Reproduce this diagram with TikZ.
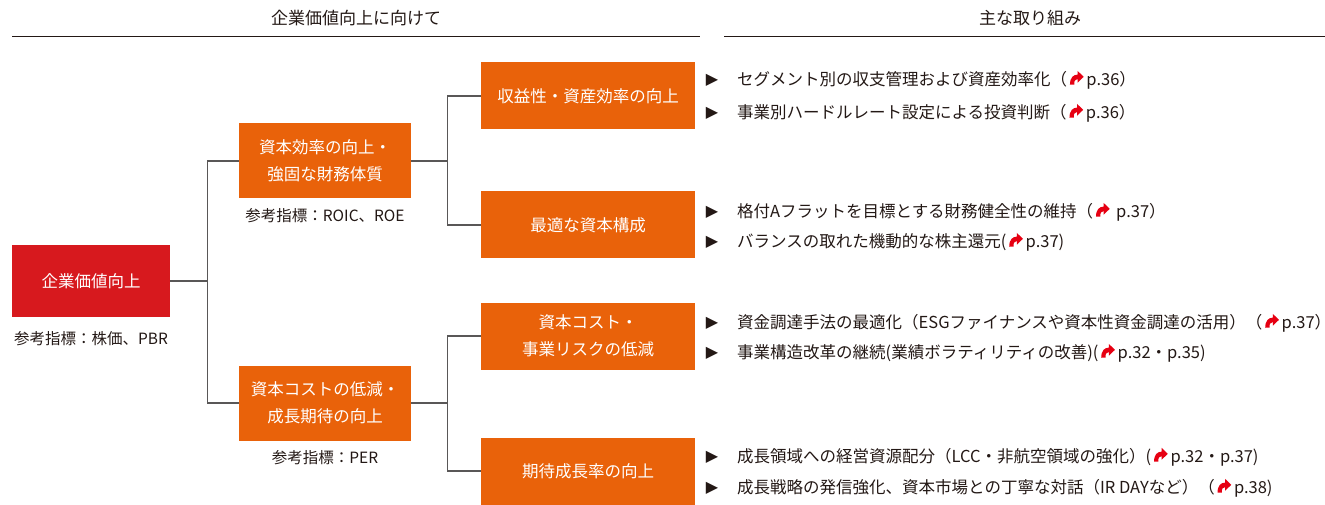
\documentclass[tikz,border=0pt]{standalone}
\usepackage{fontspec}
\setmainfont{Noto Sans CJK JP}
\newfontfamily\dejavu{DejaVu Sans}
\definecolor{txt}{HTML}{231815}
\definecolor{rootred}{HTML}{D7191E}
\definecolor{boxorange}{HTML}{E9620A}
\definecolor{arrred}{HTML}{E60012}
\definecolor{conn}{HTML}{595757}
\newcommand\refarr{\,\tikz[baseline=-0.5pt,x=1.1pt,y=1.1pt]{\fill[arrred] (0,0) .. controls (0,6.5) and (3,9.2) .. (7,9.2) -- (7,12.5) -- (12.5,7.2) -- (7,1.9) -- (7,5.2) .. controls (4.8,5.2) and (3.6,3.5) .. (3.9,0) -- cycle;}\,}
\tikzset{
  rootbox/.style={fill=rootred, text=white, minimum width=158pt, minimum height=72pt, inner sep=0pt, font=\fontsize{16.5}{27}\selectfont, align=center},
  midbox/.style={fill=boxorange, text=white, minimum width=172pt, minimum height=75pt, inner sep=0pt, font=\fontsize{16.5}{27}\selectfont, align=center},
  rightbox/.style={fill=boxorange, text=white, minimum width=214pt, minimum height=67pt, inner sep=0pt, font=\fontsize{16.5}{27}\selectfont, align=center},
  note/.style={text=txt, font=\fontsize{15.5}{18}\selectfont, inner sep=0pt},
  head/.style={text=txt, font=\fontsize{17}{20}\selectfont, inner sep=0pt},
  bul/.style={text=txt, font=\dejavu\fontsize{16}{18}\selectfont, inner sep=0pt},
  item/.style={text=txt, font=\fontsize{16.5}{18}\selectfont, inner sep=0pt, anchor=west},
  link/.style={draw=conn, line width=1.2pt},
  rule/.style={draw=txt, line width=1pt}
}
\begin{document}
\begin{tikzpicture}[x=1pt,y=1pt]
\useasboundingbox (0,0) rectangle (1325,504);
% headers
\node[head] (h1) at (356,486) {企業価値向上に向けて};
\node[head] (h2) at (1030,486) {主な取り組み};
\draw[rule] (12,467) -- (700,467);
\draw[rule] (724,467) -- (1325,467);
% boxes
\node[rootbox] (root) at (91,223) {企業価値向上};
\node[note] (rootnote) at (91,165) {参考指標：株価、PBR};
\node[midbox] (b1) at (325,343) {資本効率の向上・\\強固な財務体質};
\node[note] (b1note) at (325,288) {参考指標：ROIC、ROE};
\node[midbox] (b2) at (325,101) {資本コストの低減・\\成長期待の向上};
\node[note] (b2note) at (325,46) {参考指標：PER};
\node[rightbox] (r1) at (588,408) {収益性・資産効率の向上};
\node[rightbox] (r2) at (588,279) {最適な資本構成};
\node[rightbox] (r3) at (588,168) {資本コスト・\\事業リスクの低減};
\node[rightbox] (r4) at (588,33) {期待成長率の向上};
% connectors
\draw[link] (root.east) -- ++(37,0) coordinate (j1);
\draw[link] (j1) |- (b1.west);
\draw[link] (j1) |- (b2.west);
\draw[link] (b1.east) -- ++(36,0) coordinate (j2);
\draw[link] (j2) |- (r1.west);
\draw[link] (j2) |- (r2.west);
\draw[link] (b2.east) -- ++(36,0) coordinate (j3);
\draw[link] (j3) |- (r3.west);
\draw[link] (j3) |- (r4.west);
% items
\foreach \n/\y in {1/424,2/391,3/292,4/262,5/181,6/151,7/47,8/16}{
  \node[bul] (bu\n) at (712,\y) {▶};
}
\node[item] (i1) at (737,424) {セグメント別の収支管理および資産効率化（\refarr p.36）};
\node[item] (i2) at (737,391) {事業別ハードルレート設定による投資判断（\refarr p.36）};
\node[item] (i3) at (737,292) {格付Aフラットを目標とする財務健全性の維持（\refarr\ p.37）};
\node[item] (i4) at (737,262) {バランスの取れた機動的な株主還元(\refarr p.37)};
\node[item] (i5) at (737,181) {資金調達手法の最適化（ESGファイナンスや資本性資金調達の活用）（\refarr p.37）};
\node[item] (i6) at (737,151) {事業構造改革の継続(業績ボラティリティの改善)(\refarr p.32・p.35)};
\node[item] (i7) at (737,47) {成長領域への経営資源配分（LCC・非航空領域の強化）(\refarr p.32・p.37)};
\node[item] (i8) at (737,16) {成長戦略の発信強化、資本市場との丁寧な対話（IR DAYなど）（\refarr p.38)};
\end{tikzpicture}
\end{document}
